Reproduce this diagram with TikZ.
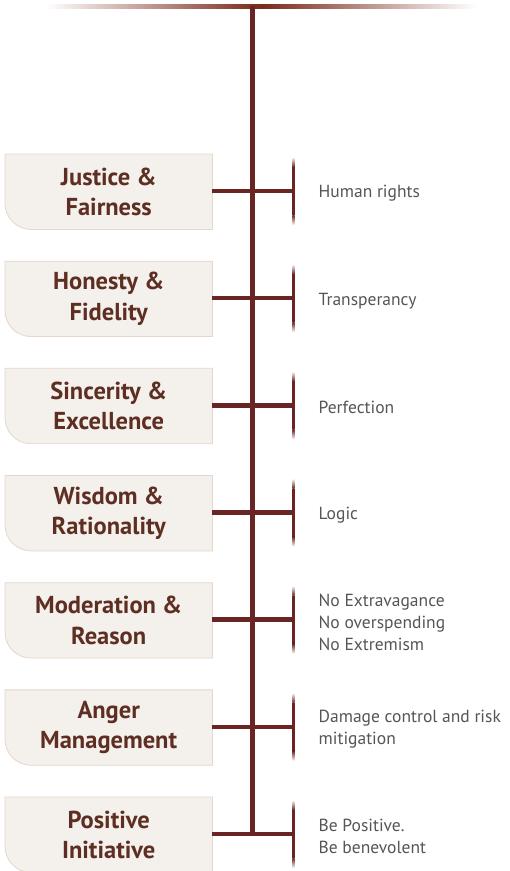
\documentclass[tikz,border=0pt]{standalone}
\usepackage{fontspec}
\setmainfont{PT Sans}
\usetikzlibrary{backgrounds}
\definecolor{trunk}{HTML}{6B2424}
\definecolor{topc}{HTML}{7A2A1A}
\definecolor{boxfill}{HTML}{F4F0EC}
\definecolor{boxline}{HTML}{E6D6CC}
\definecolor{titlec}{HTML}{5E2E22}
\definecolor{itemc}{HTML}{555555}
\tikzset{
  title/.style={text=titlec, font=\fontsize{24.5}{30.5}\selectfont\bfseries, align=center,
    minimum width=207pt, minimum height=75pt, inner sep=0pt, anchor=north west},
  boxshape/.style={fill=boxfill, draw=boxline, line width=0.8pt},
  item/.style={text=itemc, font=\fontsize{17.5}{22}\selectfont, align=left, anchor=west, inner sep=0pt},
  branch/.style={draw=trunk, line width=4.5pt},
}
\begin{document}
\begin{tikzpicture}[x=1pt,y=1pt]
\useasboundingbox (0,0) rectangle (510,-871);
% top bar
\shade[left color=white, right color=white, middle color=topc] (46,-4) rectangle (476,-8);
\coordinate (top) at (252.5,-6);
\foreach \i/\t/\r in {
  0/{Justice \&\\Fairness}/{Human rights},
  1/{Honesty \&\\Fidelity}/{Transperancy},
  2/{Sincerity \&\\Excellence}/{Perfection},
  3/{Wisdom \&\\Rationality}/{Logic},
  4/{Moderation \&\\Reason}/{No Extravagance\\No overspending\\No Extremism},
  5/{Anger\\Management}/{Damage control and risk\\mitigation},
  6/{Positive\\Initiative}/{Be Positive.\\Be benevolent}}{
  \pgfmathsetmacro{\yt}{-154-107.17*\i}
  \pgfmathsetmacro{\yb}{\yt-37}
  \node[title] (b\i) at (5,\yt) {\t};
  \begin{scope}[on background layer]
    \path[boxshape] (b\i.north west) -- (b\i.north east) -- (b\i.south east)
      -- ([xshift=26pt]b\i.south west) arc[start angle=270,end angle=180,radius=26pt] -- cycle;
  \end{scope}
  \coordinate (j\i) at (252.5,\yb);
  \coordinate (k\i) at (293.5,\yb);
  \draw[branch] (b\i.east |- j\i) -- (k\i);
  \fill[trunk] ([xshift=-1.2pt,yshift=24pt]k\i) rectangle ([xshift=1.2pt,yshift=-24pt]k\i);
  \shade[top color=white, bottom color=trunk] ([xshift=-1.2pt,yshift=34pt]k\i) rectangle ([xshift=1.2pt,yshift=24pt]k\i);
  \shade[top color=trunk, bottom color=white] ([xshift=-1.2pt,yshift=-24pt]k\i) rectangle ([xshift=1.2pt,yshift=-34pt]k\i);
  \node[item] (r\i) at ([xshift=25pt,yshift=-2.5pt]k\i) {\r};
}
\draw[branch] (top) -- (j6);
\end{tikzpicture}
\end{document}
